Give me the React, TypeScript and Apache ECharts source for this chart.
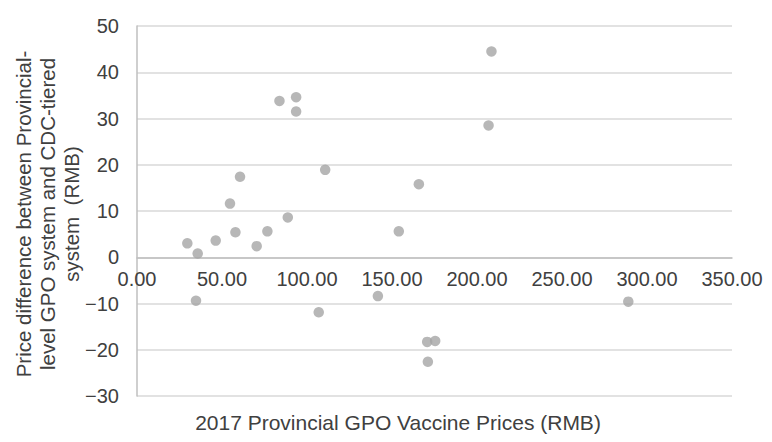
import React, { useEffect, useRef } from "react";
import * as echarts from "echarts";

const gpoPrices: number[] = [29.6, 35.7, 34.7, 46.3, 54.7, 57.9, 60.6, 70.4, 76.7, 83.8, 88.7, 93.6, 93.6, 106.9, 110.7, 141.7, 154.0, 165.8, 170.7, 175.4, 171.1, 206.8, 208.5, 289.0];
const priceDiffs: number[] = [3.0, 0.8, -9.4, 3.6, 11.6, 5.4, 17.4, 2.4, 5.6, 33.8, 8.6, 34.6, 31.5, -11.9, 18.9, -8.4, 5.6, 15.8, -18.3, -18.1, -22.6, 28.5, 44.5, -9.6];

const xAxisTitle = "2017 Provincial GPO Vaccine Prices (RMB)";
const yAxisTitleLines = ["Price difference between Provincial-", "level GPO system and CDC-tiered", "system  (RMB)"];

const FONT = "'Liberation Sans', Arial, sans-serif";

const Y_MIN = -30;
const Y_MAX = 50;
const GRID_TOP = 26;
const GRID_BOTTOM = 46;
const H = 442;

export default function App() {
  const ref = useRef<HTMLDivElement>(null);
  useEffect(() => {
    document.body.style.margin = "0";
    if (!ref.current) return;
    const chart = echarts.init(ref.current, undefined, { renderer: "svg" });
    const data = gpoPrices.map((x, i) => [x, priceDiffs[i]]);
    const plotH = H - GRID_TOP - GRID_BOTTOM;
    const zeroOffset = -((0 - Y_MIN) / (Y_MAX - Y_MIN)) * plotH;
    chart.setOption({
      animation: false,
      backgroundColor: "#ffffff",
      textStyle: { fontFamily: FONT },
      grid: { left: 137, right: 40, top: GRID_TOP, bottom: GRID_BOTTOM, containLabel: false },
      xAxis: {
        type: "value",
        min: 0,
        max: 350,
        interval: 50,
        position: "bottom",
        offset: zeroOffset,
        axisLine: { show: true, onZero: false, lineStyle: { color: "#bfbfbf", width: 1.5 } },
        axisTick: { show: false },
        splitLine: { show: false },
        axisLabel: {
          color: "#404040",
          fontSize: 20,
          fontFamily: FONT,
          margin: 12,
          showMinLabel: true,
          showMaxLabel: true,
          formatter: (v: number) => v.toFixed(2),
        },
      },
      yAxis: {
        type: "value",
        min: Y_MIN,
        max: Y_MAX,
        interval: 10,
        axisLine: { show: true, onZero: false, lineStyle: { color: "#bfbfbf", width: 1.5 } },
        axisTick: { show: false },
        splitLine: { show: true, lineStyle: { color: "#d9d9d9", width: 1.5 } },
        axisLabel: {
          color: "#404040",
          fontSize: 20,
          fontFamily: FONT,
          margin: 18,
          formatter: (v: number) => (v < 0 ? "\u2212" + Math.abs(v) : String(v)),
        },
      },
      series: [
        {
          type: "scatter",
          data,
          symbol: "circle",
          symbolSize: 10.5,
          itemStyle: { color: "#a5a5a5" },
        },
      ],
      graphic: [
        {
          type: "text",
          x: 398,
          y: 422,
          style: {
            text: xAxisTitle,
            fill: "#404040",
            fontSize: 21,
            fontFamily: FONT,
            align: "center",
            verticalAlign: "middle",
          },
        },
        {
          type: "text",
          x: 47,
          y: 214,
          rotation: Math.PI / 2,
          style: {
            text: yAxisTitleLines.join("\n"),
            fill: "#404040",
            fontSize: 20.5,
            lineHeight: 24,
            fontFamily: FONT,
            align: "center",
            verticalAlign: "middle",
          },
        },
      ],
    });
    return () => chart.dispose();
  }, []);
  return <div ref={ref} style={{ width: 772, height: 442 }} />;
}
